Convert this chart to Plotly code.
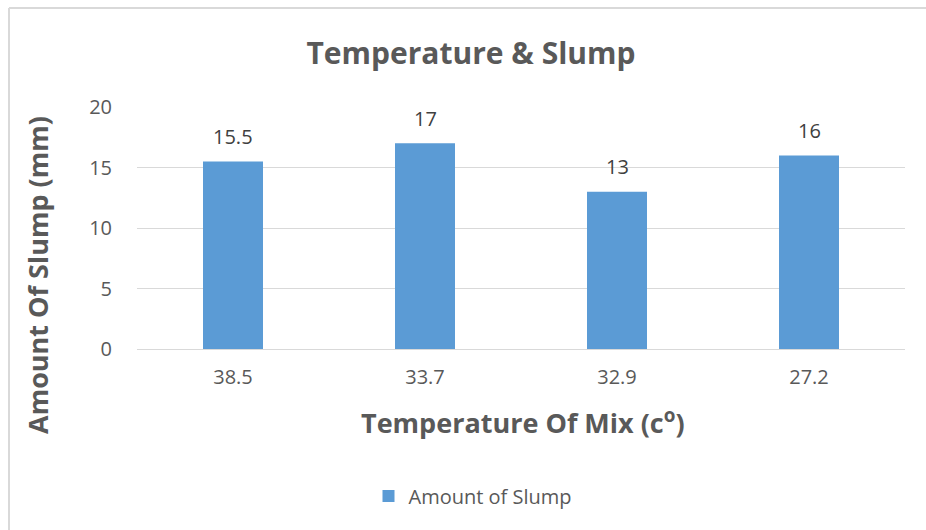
import plotly.graph_objects as go

# Mix temperatures (category labels) and measured slump values
temperatures = ["38.5", "33.7", "32.9", "27.2"]
slump_mm = [15.5, 17, 13, 16]
series_name = "Amount of Slump"

W, H = 926, 530
ML, MR, MT, MB = 137, 21, 107, 181
FONT = "Open Sans"
GREY = "#595959"

pw = W - ML - MR
ph = H - MT - MB


def px_x(px):
    return (px - ML) / pw


def px_y(py):
    return (H - MB - py) / ph


fig = go.Figure()
fig.add_trace(go.Bar(
    x=temperatures,
    y=slump_mm,
    name=series_name,
    marker=dict(color="#5B9BD5", line=dict(width=0)),
    showlegend=True,
))

# Value labels above each bar (category axis positions are indices)
for i, v in enumerate(slump_mm):
    fig.add_annotation(
        x=i, y=v, xref="x", yref="y",
        text=f"{v:g}", showarrow=False,
        yshift=25, font=dict(family=FONT, size=20, color="#404040"),
    )

# Axis titles
fig.add_annotation(
    x=px_x(523), y=px_y(421), xref="paper", yref="paper",
    text="<b>Temperature Of Mix (c<sup>o</sup>)</b>", showarrow=False,
    xanchor="center", yanchor="middle",
    font=dict(family=FONT, size=27, color=GREY),
)
fig.add_annotation(
    x=px_x(37), y=px_y(275), xref="paper", yref="paper",
    text="<b>Amount Of Slump (mm)</b>", showarrow=False, textangle=-90,
    xanchor="center", yanchor="middle",
    font=dict(family=FONT, size=27, color=GREY),
)

# Outer chart frame (left and top edges visible)
fx0 = px_x(9)
fy0 = px_y(8)
fig.add_shape(type="line", xref="paper", yref="paper",
              x0=fx0, y0=fy0, x1=fx0, y1=-1.0,
              line=dict(color="#d9d9d9", width=2))
fig.add_shape(type="line", xref="paper", yref="paper",
              x0=fx0, y0=fy0, x1=1.2, y1=fy0,
              line=dict(color="#d9d9d9", width=2))

fig.update_layout(
    width=W, height=H,
    margin=dict(l=ML, r=MR, t=MT, b=MB),
    paper_bgcolor="white",
    plot_bgcolor="white",
    bargap=0.6875,
    font=dict(family=FONT, color=GREY),
    title=dict(
        text="<b>Temperature & Slump</b>",
        x=471 / W, xref="container", xanchor="center",
        y=1 - 53 / H, yref="container", yanchor="middle",
        font=dict(family=FONT, size=30, color=GREY),
    ),
    xaxis=dict(
        type="category",
        categoryorder="array", categoryarray=temperatures,
        range=[-0.5, len(temperatures) - 0.5],
        showgrid=False, showline=False, zeroline=False,
        ticks="outside", ticklen=10, tickcolor="rgba(0,0,0,0)",
        tickangle=0,
        tickfont=dict(family=FONT, size=20, color=GREY),
    ),
    yaxis=dict(
        range=[0, 20], dtick=5,
        showgrid=True, gridcolor="#d9d9d9", gridwidth=1,
        zeroline=True, zerolinecolor="#d9d9d9", zerolinewidth=1,
        showline=False,
        ticks="outside", ticklen=20, tickcolor="rgba(0,0,0,0)",
        tickfont=dict(family=FONT, size=20, color=GREY),
    ),
    legend=dict(
        orientation="h",
        x=473 / W, xref="container", xanchor="center",
        y=1 - 496 / H, yref="container", yanchor="middle",
        font=dict(family=FONT, size=20, color=GREY),
    ),
)

fig.write_html("out.html")
